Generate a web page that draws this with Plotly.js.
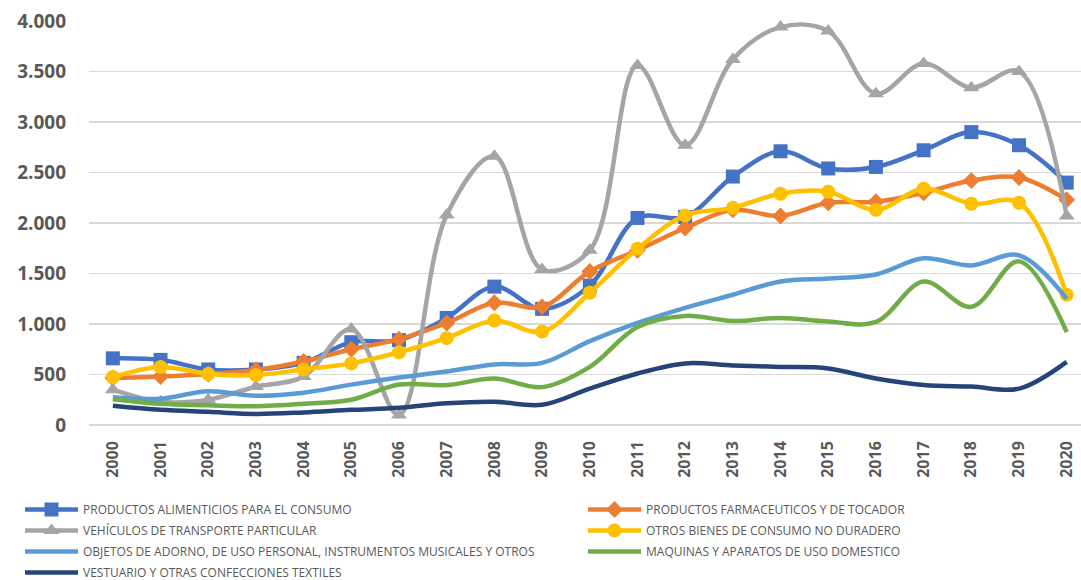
<!DOCTYPE html>
<html>
<head>
<meta charset="utf-8">
<script src="https://cdn.plot.ly/plotly-3.0.1.min.js"></script>
<style>html,body{margin:0;padding:0;background:#fff;}#chart{width:1081px;height:580px;}</style>
</head>
<body>
<div id="chart"></div>
<script>
var years = ['2000','2001','2002','2003','2004','2005','2006','2007','2008','2009','2010','2011','2012','2013','2014','2015','2016','2017','2018','2019','2020'];

var seriesNames = [
  'PRODUCTOS ALIMENTICIOS PARA EL CONSUMO',
  'PRODUCTOS FARMACEUTICOS Y DE TOCADOR',
  'VEHÍCULOS DE TRANSPORTE PARTICULAR',
  'OTROS BIENES DE CONSUMO NO DURADERO',
  'OBJETOS DE ADORNO, DE USO PERSONAL, INSTRUMENTOS MUSICALES Y OTROS',
  'MAQUINAS Y APARATOS DE USO DOMESTICO',
  'VESTUARIO Y OTRAS CONFECCIONES TEXTILES'
];

var alimenticios = [660, 645, 550, 550, 615, 820, 840, 1060, 1370, 1150, 1380, 2050, 2060, 2460, 2710, 2540, 2555, 2720, 2900, 2770, 2400];
var farmaceuticos = [465, 480, 505, 545, 630, 750, 850, 1010, 1210, 1170, 1520, 1730, 1950, 2130, 2070, 2200, 2210, 2300, 2420, 2450, 2230];
var vehiculos = [350, 230, 250, 380, 480, 950, 100, 2080, 2660, 1540, 1730, 3560, 2770, 3620, 3940, 3900, 3280, 3580, 3340, 3500, 2070];
var otros = [475, 575, 505, 495, 550, 610, 720, 860, 1035, 925, 1310, 1745, 2075, 2150, 2290, 2310, 2130, 2340, 2190, 2200, 1290];
var objetos = [275, 260, 335, 290, 320, 400, 470, 530, 600, 615, 830, 1010, 1160, 1290, 1420, 1450, 1490, 1650, 1580, 1680, 1250];
var maquinas = [255, 210, 195, 185, 210, 250, 400, 395, 460, 375, 575, 970, 1080, 1030, 1060, 1025, 1020, 1420, 1170, 1620, 920];
var vestuario = [190, 150, 130, 110, 125, 150, 170, 215, 230, 200, 360, 510, 610, 590, 575, 560, 460, 395, 380, 360, 625];

var colors = ['#4472C4', '#ED7D31', '#A5A5A5', '#FFC000', '#5B9BD5', '#70AD47', '#264478'];
var symbols = ['square', 'diamond', 'triangle-up', 'circle', null, null, null];
var msizes = [14, 13, 14, 14, 0, 0, 0];
var legendIds = ['legend', 'legend2', 'legend', 'legend2', 'legend', 'legend2', 'legend'];
var values = [alimenticios, farmaceuticos, vehiculos, otros, objetos, maquinas, vestuario];

var traces = values.map(function(v, i) {
  var t = {
    type: 'scatter',
    x: years,
    y: v,
    name: seriesNames[i],
    legend: legendIds[i],
    legendgroup: 'g' + i,
    mode: symbols[i] ? 'lines+markers' : 'lines',
    line: {color: colors[i], width: 4.5, shape: 'spline', smoothing: 1},
    cliponaxis: false,
    hoverinfo: 'x+y+name'
  };
  if (symbols[i]) {
    t.marker = {symbol: symbols[i], size: msizes[i], color: colors[i], line: {width: 0}};
  }
  return t;
});

var legendFont = {family: '"Open Sans", sans-serif', size: 12, color: '#595959'};

var layout = {
  width: 1081,
  height: 580,
  margin: {l: 89, r: 0, t: 21, b: 155, autoexpand: false},
  paper_bgcolor: '#ffffff',
  plot_bgcolor: '#ffffff',
  separators: ',.',
  showlegend: true,
  xaxis: {
    type: 'category',
    range: [-0.5, 20.3],
    showgrid: false,
    zeroline: false,
    showline: false,
    tickangle: -90,
    ticks: '',
    ticklabelstandoff: 12,
    tickfont: {family: '"Open Sans", sans-serif', size: 16, color: '#595959', weight: 'bold'},
    fixedrange: true
  },
  yaxis: {
    range: [0, 4000],
    dtick: 500,
    tick0: 0,
    tickformat: ',d',
    showgrid: true,
    gridcolor: '#D9D9D9',
    gridwidth: 1.5,
    zeroline: true,
    zerolinecolor: '#D9D9D9',
    zerolinewidth: 1.5,
    showline: false,
    ticks: '',
    ticklabelstandoff: 22,
    tickfont: {family: '"Open Sans", sans-serif', size: 19, color: '#595959', weight: 'bold'},
    fixedrange: true
  },
  legend: {
    xref: 'container', yref: 'container',
    x: 20 / 1081, y: 1 - 495 / 580,
    xanchor: 'left', yanchor: 'top',
    orientation: 'v',
    itemwidth: 53,
    tracegroupgap: 2,
    bgcolor: 'rgba(0,0,0,0)',
    font: legendFont
  },
  legend2: {
    xref: 'container', yref: 'container',
    x: 583 / 1081, y: 1 - 495 / 580,
    xanchor: 'left', yanchor: 'top',
    orientation: 'v',
    itemwidth: 53,
    tracegroupgap: 2,
    bgcolor: 'rgba(0,0,0,0)',
    font: legendFont
  }
};

Plotly.newPlot('chart', traces, layout, {displayModeBar: false, staticPlot: true});
</script>
</body>
</html>
